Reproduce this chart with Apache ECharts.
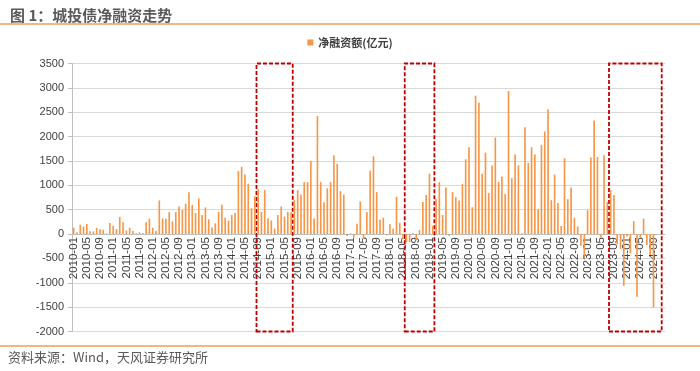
<!DOCTYPE html>
<html>
<head>
<meta charset="utf-8">
<script src="https://cdn.jsdelivr.net/npm/echarts@6/dist/echarts.min.js"></script>
<style>
html,body{margin:0;padding:0;background:#fff;}
#chart{width:700px;height:371px;}
</style>
</head>
<body>
<div id="chart"></div>
<script>
// ---- data ----
const months = [];
for (let y = 2010; y <= 2024; y++) {
  for (let m = 1; m <= 12; m++) months.push(y + '-' + (m < 10 ? '0' + m : m));
}
const netFinancing = [
  // 2010
  130, 35, 190, 155, 205, 55, 55, 125, 100, 90, 15, 225,
  // 2011
  170, 100, 350, 240, 70, 130, 60, 15, 35, 20, 240, 315,
  // 2012
  130, 60, 690, 320, 315, 450, 260, 450, 565, 490, 620, 860,
  // 2013
  595, 430, 730, 390, 545, 305, 135, 220, 455, 600, 335, 275,
  // 2014
  390, 430, 1290, 1380, 1220, 1030, 530, 775, 920, 455, 905, 325,
  // 2015
  280, 115, 390, 565, 360, 455, 445, 695, 900, 810, 1065, 1065,
  // 2016
  1500, 320, 2420, 1065, 655, 940, 1065, 1615, 1440, 880, 810, -40,
  // 2017
  15, -75, 210, 670, -100, 450, 1300, 1595, 860, 295, 335, -25,
  // 2018
  200, 110, 765, 230, -100, -170, -160, 20, -130, 80, 660, 800,
  // 2019
  1240, 165, 715, 1065, 390, 955, -40, 860, 755, 690, 1030, 1535,
  // 2020
  1780, 550, 2840, 2695, 1235, 1670, 840, 1405, 1980, 1070, 1180, 825,
  // 2021
  2935, 1145, 1630, 1410, 15, 2190, 1460, 1780, 1635, 505, 1830, 2105,
  // 2022
  2560, 695, 1220, 635, 165, 1555, 715, 955, 335, 155, -240, -500,
  // 2023
  490, 1570, 2330, 1580, -60, 1615, 655, 900, 800, -210, -305, -1065,
  // 2024
  -50, -395, 265, -1285, -60, 315, -225, -430, -1505, null, null, null
];
const labelStep = 4; // a tick label every 4 months
const seriesName = '净融资额(亿元)';
const highlightPeriods = [
  ['2014-09', '2015-07'],
  ['2018-06', '2019-02'],
  ['2023-08', '2024-11']
];
const titleText = '图 1：城投债净融资走势';
const sourceText = '资料来源：Wind，天风证券研究所';

// ---- chart ----
const chart = echarts.init(document.getElementById('chart'), null, {renderer: 'canvas'});
const cjk = '"Noto Sans CJK SC", "Liberation Sans", sans-serif';
const num = '"Liberation Sans", Arial, sans-serif';

chart.setOption({
  animation: false,
  backgroundColor: '#ffffff',
  title: {
    text: titleText,
    left: 5, top: 3,
    textStyle: {fontFamily: cjk, fontSize: 15, fontWeight: 'bold', color: '#595959'}
  },
  legend: {
    top: 32, left: 'center',
    icon: 'rect', itemWidth: 6, itemHeight: 6, itemGap: 4,
    textStyle: {fontFamily: cjk, fontSize: 11, color: '#404040', fontWeight: 'bold'},
    data: [seriesName]
  },
  graphic: [
    {type: 'line', shape: {x1: 0, y1: 24, x2: 700, y2: 24}, style: {stroke: '#F8B47A', lineWidth: 2}},
    {type: 'line', shape: {x1: 0, y1: 346, x2: 700, y2: 346}, style: {stroke: '#F8B47A', lineWidth: 2}},
    {type: 'text', left: 8, top: 351, style: {text: sourceText, font: '13px ' + cjk, fill: '#595959'}}
  ],
  grid: {left: 72, right: 35, top: 63.5, bottom: 39.5, containLabel: false, outerBoundsMode: 'none'},
  xAxis: {
    type: 'category',
    data: months,
    position: 'bottom',
    axisLine: {onZero: false, lineStyle: {color: '#BFBFBF', width: 1}},
    axisTick: {show: false},
    axisLabel: {
      interval: 0,
      hideOverlap: false,
      formatter: (v, idx) => (idx % labelStep === 0 ? v : ''),
      rotate: 90, margin: 3,
      fontFamily: num, fontSize: 11.5, color: '#404040'
    },
    splitLine: {show: false}
  },
  yAxis: {
    type: 'value',
    min: -2000, max: 3500, interval: 500,
    axisLine: {show: true, lineStyle: {color: '#BFBFBF'}},
    axisTick: {show: true, length: 4, lineStyle: {color: '#BFBFBF'}},
    axisLabel: {fontFamily: num, fontSize: 11, color: '#404040', margin: 8, formatter: v => String(v)},
    splitLine: {lineStyle: {color: '#D9D9D9', width: 1}}
  },
  series: [{
    name: seriesName,
    type: 'bar',
    data: netFinancing,
    barWidth: '50%',
    itemStyle: {color: '#F79646'},
    markArea: {
      silent: true,
      itemStyle: {color: 'rgba(0,0,0,0)', borderColor: '#C00000', borderWidth: 1.8, borderType: [4, 2]},
      data: highlightPeriods.map(p => [{xAxis: p[0], yAxis: 3500}, {xAxis: p[1], yAxis: -2000}])
    }
  }]
});

// move the category axis (line + labels) up to the value-axis zero line
const zeroY = chart.convertToPixel({yAxisIndex: 0}, 0);
const bottomY = chart.convertToPixel({yAxisIndex: 0}, -2000);
chart.setOption({xAxis: {offset: -(bottomY - zeroY)}});
</script>
</body>
</html>
